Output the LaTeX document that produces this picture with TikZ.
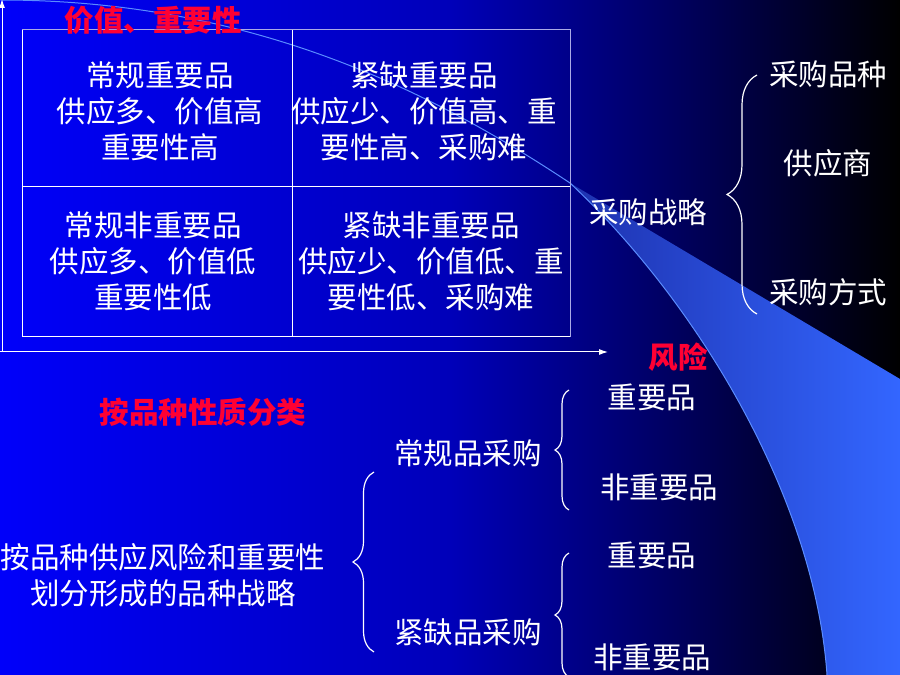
\documentclass[tikz,border=0pt]{standalone}
\usepackage{fontspec}
\setmainfont{Noto Sans CJK SC}
\usetikzlibrary{arrows.meta,decorations.pathreplacing}
\definecolor{bgblue}{RGB}{0,0,250}
\definecolor{bgmid}{RGB}{0,0,185}
\definecolor{bgdark}{RGB}{0,0,95}
\definecolor{swoosh}{RGB}{51,102,255}
\definecolor{swooshdim}{RGB}{30,50,175}
\definecolor{edgeblue}{RGB}{90,140,255}
\definecolor{hdrred}{RGB}{255,0,51}
\definecolor{framegray}{RGB}{170,170,230}
\pgfdeclarehorizontalshading{bgshade}{100bp}{color(0bp)=(bgblue); color(25bp)=(bgblue); color(50bp)=(bgmid); color(62.5bp)=(bgdark); color(75bp)=(black); color(100bp)=(black)}
\begin{document}
\begin{tikzpicture}[x=1pt,y=1pt,
		txt/.style={text=white,font=\fontsize{29.5}{36}\selectfont,align=center,inner sep=0pt},
		hdr/.style={text=hdrred,font=\fontsize{29.5}{36}\selectfont\bfseries,inner sep=0pt},
		brc/.style={white,line width=1.2pt,decorate,decoration={brace,amplitude=#1}}]
		\shade[shading=bgshade] (0,0) rectangle (900,675);
		\useasboundingbox (0,0) rectangle (900,675);
		\clip (0,0) rectangle (900,675);
		\shade[left color=swooshdim,right color=swoosh] (570,492) -- (900,296) -- (900,0) -- (827,0) .. controls (815,175) and (700,370) .. (570,492) -- cycle;
		\draw[edgeblue,line width=1pt] (0,675) .. controls (250,675) and (430,585) .. (570,492);
		\draw[edgeblue,line width=1pt] (570,492) .. controls (700,370) and (815,175) .. (827,0);
		\draw[framegray,line width=1pt] (22,645) -- (570,645) -- (570,338);
		\draw[white,line width=1pt] (22,645) -- (22,338) -- (570,338);
		\draw[white,line width=1pt] (292,645) -- (292,338);
		\draw[white,line width=1pt] (22,488) -- (570,488);
		\coordinate (origin) at (2,323);
		\coordinate (vtop) at (2,676);
		\coordinate (hend) at (608,323);
		\draw[white,line width=1pt,-{Latex[length=9pt,width=6pt]}] (0,323) -- (hend);
		\draw[white,line width=1pt,-{Latex[length=9pt,width=6pt]}] (origin) -- (vtop);
		\node[hdr] (vtitle) at (153,655) {价值、重要性};
		\node[hdr] (htitle) at (678,318) {风险};
		\node[txt] (cA) at (160,564) {常规重要品\\供应多、价值高\\重要性高};
		\node[txt] (cB) at (424,564) {紧缺重要品\\供应少、价值高、重\\要性高、采购难};
		\node[txt] (cC) at (153,414) {常规非重要品\\供应多、价值低\\重要性低};
		\node[txt] (cD) at (431,414) {紧缺非重要品\\供应少、价值低、重\\要性低、采购难};
		\node[txt] (strat) at (648,463) {采购战略};
		\node[txt] (kind) at (828,601) {采购品种};
		\node[txt] (supp) at (828,512) {供应商};
		\node[txt] (mode) at (828,383) {采购方式};
		\node[hdr] (qual) at (203,263) {按品种性质分类};
		\node[txt] (split) at (163,100) {按品种供应风险和重要性\\划分形成的品种战略};
		\node[txt] (norm) at (468,222) {常规品采购};
		\node[txt] (scar) at (468,43) {紧缺品采购};
		\node[txt] (nimp) at (652,278) {重要品};
		\node[txt] (nun) at (659,188) {非重要品};
		\node[txt] (simp) at (652,120) {重要品};
		\node[txt] (sun) at (652,18) {非重要品};
		\coordinate (b1s) at (757,361);
		\coordinate (b1e) at (757,600);
		\coordinate (b2s) at (569,165);
		\coordinate (b2e) at (569,285);
		\coordinate (b3s) at (374,23);
		\coordinate (b3e) at (374,203);
		\coordinate (b4s) at (569,-2);
		\coordinate (b4e) at (569,122);
		\draw[brc=30] (b1s) -- (b1e);
		\draw[brc=14] (b2s) -- (b2e);
		\draw[brc=21] (b3s) -- (b3e);
		\draw[brc=14] (b4s) -- (b4e);
		\end{tikzpicture}
\end{document}
